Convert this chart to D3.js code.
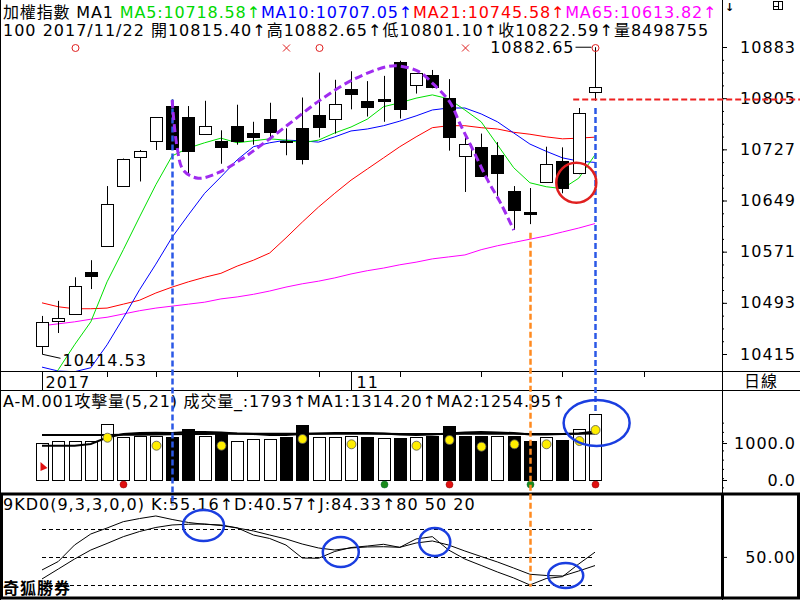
<!DOCTYPE html>
<html>
<head>
<meta charset="utf-8">
<script src="https://cdn.jsdelivr.net/npm/d3@7"></script>
<style>
body{margin:0;background:#fff}
text{font-family:"DejaVu Sans","Noto Sans CJK TC",sans-serif;font-size:16px;letter-spacing:1px;fill:#000}
</style>
</head>
<body>
<div id="chart"></div>
<script>
// K線 (加權指數, 日線)
const opens  = [10427,10465,10475,10540,10579,10672,10716,10740,10793,10776,10750,10740,10762,10752,10774,10740,10759,10780,10773,10819,10801,10804,10860,10825,10841,10805,10716,10730,10718,10663,10631,10677,10709,10691,10815.40]
const highs  = [10473,10496,10532,10558,10671,10713,10726,10776,10803,10793,10801,10756,10795,10769,10798,10759,10806,10844,10833,10846,10831,10839,10862,10843,10848,10834,10745,10751,10738,10671,10668,10731,10730,10790,10882.65]
const lows   = [10414.53,10447,10475,10514,10579,10672,10678,10726,10727,10687,10750,10705,10734,10734,10741,10718,10704,10745,10751,10788,10777,10769,10774,10812,10820,10725,10662,10686,10656,10604,10613,10677,10660,10689,10801.10]
const closes = [10464,10470,10518,10534,10643,10713,10725,10776,10727,10724,10762,10731,10739,10746,10754,10739,10712,10761,10796,10811,10792,10801,10789,10843,10822,10746,10735,10686,10690,10634,10628,10704,10668,10782,10822.59]

const ma5  = [10360,10391,10429,10464,10525,10574,10624,10673,10717,10729,10737,10744,10737,10740,10743,10741,10737,10741,10752,10761,10773,10792,10798,10805,10810,10804,10787,10769,10734,10699,10676,10670,10667,10683,10718.58]
const ma10 = [10395,10389,10388,10394,10429,10470,10513,10552,10593,10627,10660,10685,10711,10731,10737,10741,10740,10738,10746,10755,10758,10763,10770,10778,10787,10790,10790,10781,10769,10752,10735,10724,10714,10709,10707.05]
const ma21 = [10493,10487,10484,10484,10485,10491,10497,10508,10517,10525,10532,10538,10549,10558,10569,10592,10616,10639,10660,10680,10697,10714,10731,10746,10760,10763,10763,10760,10758,10753,10750,10746,10743,10744,10745.58]
const ma65 = [10458,10461,10464,10468,10471,10476,10481,10485,10488,10491,10494,10499,10502,10506,10511,10517,10522,10526,10531,10537,10542,10546,10551,10555,10560,10563,10566,10574,10580,10585,10590,10595,10601,10607,10613.82]

// 攻擊量
const volumes = [992,1062,1054,1062,1505,1171,1189,1189,1153,1378,1189,1261,1045,1099,1099,1171,1486,1171,1153,1189,1171,1126,1126,1171,1189,1459,1189,1189,1189,1189,1054,1171,1081,1369,1793]
const volMa1 = [927,927,927,973,1149,1243,1270,1278,1270,1297,1297,1284,1257,1243,1216,1216,1243,1257,1270,1270,1270,1257,1230,1216,1230,1257,1284,1297,1284,1270,1230,1230,1243,1257,1314.20]
const volMa2 = [1216,1216,1216,1216,1216,1220,1225,1230,1235,1240,1245,1248,1250,1252,1252,1250,1250,1250,1250,1250,1250,1248,1246,1245,1244,1245,1247,1248,1248,1248,1246,1245,1245,1248,1254.95]
const yellowIdx = [4,7,11,16,19,23,25,27,29,31,33,34]
const yellowVal = [1143,927,927,1108,965,927,1081,900,965,965,1054,1351]
const redDotIdx = [5,25,34]
const greenDotIdx = [21,30]

// KD
const kValues = [35.8,45.0,62.9,74.9,81.4,88.3,91.7,94.5,90.7,87.4,85.4,84.7,81.6,73.8,70.0,62.9,48.8,48.5,55.9,60.2,61.8,63.7,60.4,69.5,72.0,57.5,47.7,40.7,33.6,27.1,19.5,26.5,28.5,42.3,55.16]
const dValues = [26.0,36.8,47.7,57.5,64.6,72.0,77.6,82.0,84.7,85.5,85.8,84.1,81.4,78.2,73.8,69.5,64.0,59.7,57.5,59.7,60.8,61.1,60.4,65.1,67.3,62.9,56.4,50.4,44.5,37.9,31.1,29.8,29.2,34.7,40.57]
const kdLevels = [80,50,20]

// 軸
const priceTicks = [10883,10805,10727,10649,10571,10493,10415]
const volTicks = [1000,0]
const volTickLabels = ['1000.0','0.0']
const kdTicks = [50]
const kdTickLabels = ['50.00']
const dateTickIdx = [0,4,7,12,17,19,22,27,32,37]
const dateLabelIdx = [0,19]
const dateLabels = ['2017','11']

// 訊號標記
const markIdx = [2,15,17,26,34]
const markType = ['o','x','o','x','o']

// 手繪註記
const purpleIdx = [8.0,8.3,8.7,9.6,10.8,12.2,13.4,15.1,17.1,19.1,21.2,22.0,23.2,24.0,25.1,25.7,26.5,27.4,28.2,29.0]
const purplePrice = [10802,10731,10695,10683,10691,10711,10732,10764,10802,10833,10853,10854,10845,10828,10798,10766,10726,10680,10645,10604]
const kdCircleIdx = [9.93,18.37,24.15,32.2]
const kdCircleVal = [84.1,55.3,66.2,29.8]
const kdCircleRx = [20.5,18,15.5,17.5]
const kdCircleRy = [15.5,15,14,12.5]

const W = 800, H = 600
const axisX = 722

const svg = d3.select('#chart').append('svg')
    .attr('width', W)
    .attr('height', H)

const x = d3.scaleLinear().domain([0, 34]).range([42, 595])
const y = d3.scaleLinear().domain([10415, 10883]).range([354, 47])
const vy = d3.scaleLinear().domain([0, 1000]).range([480, 443])
const ky = d3.scaleLinear().domain([20, 80]).range([584.5, 529.3])
const px = i => Math.round(x(i)) + 0.5

svg.append('defs').append('clipPath').attr('id', 'clip-main')
    .append('rect').attr('x', 1).attr('y', 0).attr('width', axisX - 1).attr('height', 371)

// ---- 框線
const frame = svg.append('g').attr('stroke', '#000').attr('fill', 'none')
frame.append('line').attr('x1', 0.5).attr('x2', 0.5).attr('y1', 0).attr('y2', H)
frame.append('line').attr('x1', axisX + 0.5).attr('x2', axisX + 0.5).attr('y1', 0).attr('y2', H)
frame.append('line').attr('x1', 0).attr('x2', W).attr('y1', 371.5).attr('y2', 371.5)
frame.append('line').attr('x1', 0).attr('x2', W).attr('y1', 390.5).attr('y2', 390.5)
frame.append('rect').attr('x', 1.5).attr('y', 494).attr('width', W - 3).attr('height', 104)
    .attr('stroke-width', 3)
frame.append('line').attr('x1', axisX + 0.5).attr('x2', axisX + 0.5).attr('y1', 494).attr('y2', 598)
    .attr('stroke-width', 3)

// ---- 主圖
const main = svg.append('g').attr('clip-path', 'url(#clip-main)')

const maLines = [[ma65, '#ff00ff'], [ma21, '#ff0000'], [ma10, '#0000ff'], [ma5, '#00e000']]
maLines.forEach(([vals, color]) => {
    main.append('path')
        .datum(vals)
        .attr('fill', 'none')
        .attr('stroke', color)
        .attr('stroke-width', 1)
        .attr('d', d3.line().x((d, i) => x(i)).y(d => y(d)))
})

const candles = main.append('g').selectAll('g')
    .data(d3.range(opens.length))
    .enter().append('g')
candles.append('line')
    .attr('x1', i => px(i)).attr('x2', i => px(i))
    .attr('y1', i => y(highs[i])).attr('y2', i => y(lows[i]))
    .attr('stroke', '#000')
candles.append('rect')
    .attr('x', i => px(i) - 6)
    .attr('width', 12)
    .attr('y', i => Math.round(y(Math.max(opens[i], closes[i]))) + 0.5)
    .attr('height', i => Math.max(1, Math.round(Math.abs(y(opens[i]) - y(closes[i])))))
    .attr('fill', i => closes[i] >= opens[i] ? '#fff' : '#000')
    .attr('stroke', '#000')

// 最高 / 最低 標示
const lastI = opens.length - 1
const hiY = y(highs[lastI])
main.append('line')
    .attr('x1', px(lastI) - 20).attr('x2', px(lastI) - 4)
    .attr('y1', hiY).attr('y2', hiY)
    .attr('stroke', '#000')
main.append('text')
    .attr('x', px(lastI) - 21).attr('y', hiY + 6)
    .attr('text-anchor', 'end')
    .text(d3.format('.2f')(highs[lastI]))

const loI = d3.minIndex(lows)
const loY = y(lows[loI])
main.append('path')
    .attr('d', `M${px(loI)},${loY - 3}L${px(loI)},${loY}L${px(loI) + 18},${loY + 4}`)
    .attr('fill', 'none').attr('stroke', '#000')
main.append('text')
    .attr('x', px(loI) + 20).attr('y', loY + 12)
    .text(d3.format('.2f')(lows[loI]))

// 訊號 o / x
const marks = main.append('g').attr('stroke', '#e02020').attr('fill', 'none')
markIdx.forEach((idx, k) => {
    const cx = px(idx), cy = 48
    if (markType[k] === 'o') {
        marks.append('circle').attr('cx', cx).attr('cy', cy).attr('r', 3.5)
    } else {
        marks.append('path').attr('d', `M${cx - 3.5},${cy - 3.5}L${cx + 3.5},${cy + 3.5}M${cx + 3.5},${cy - 3.5}L${cx - 3.5},${cy + 3.5}`)
    }
})

// 標題
const head1 = main.append('text').attr('x', 3).attr('y', 17.5).style('letter-spacing', '0.85px')
head1.append('tspan').text('加權指數 MA1 ')
head1.append('tspan').style('fill', '#00d800').text(`MA5:${ma5[lastI].toFixed(2)}↑`)
head1.append('tspan').style('fill', '#0000ff').text(`MA10:${ma10[lastI].toFixed(2)}↑`)
head1.append('tspan').style('fill', '#ff0000').text(`MA21:${ma21[lastI].toFixed(2)}↑`)
head1.append('tspan').style('fill', '#ff00ff').text(`MA65:${ma65[lastI].toFixed(2)}↑`)
main.append('text').attr('x', 3).attr('y', 35.5)
    .text(`100 2017/11/22 開${opens[lastI].toFixed(2)}↑高${highs[lastI].toFixed(2)}↑低${lows[lastI].toFixed(2)}↑收${closes[lastI].toFixed(2)}↑量8498755`)

// 右側價格軸
const priceAxis = svg.append('g')
    .attr('transform', `translate(${axisX},0)`)
    .call(d3.axisRight(y).tickValues(priceTicks).tickSize(5).tickSizeOuter(0).tickFormat(d3.format('d')))
priceAxis.select('.domain').remove()
priceAxis.selectAll('text').attr('x', 74).attr('text-anchor', 'end')
    .style('font-size', '16px').style('font-family', '"DejaVu Sans"')
const minorP = svg.append('g')
    .attr('transform', `translate(${axisX},0)`)
    .call(d3.axisRight(y).tickValues(d3.range(10415, 10883, 19.5)).tickSize(2).tickFormat(''))
minorP.select('.domain').remove()

// 日期軸
const dateAxis = svg.append('g')
dateAxis.selectAll('line')
    .data(dateTickIdx)
    .enter().append('line')
    .attr('x1', i => px(i)).attr('x2', i => px(i))
    .attr('y1', 371)
    .attr('y2', i => dateLabelIdx.includes(i) ? 390 : 377)
    .attr('stroke', '#000')
dateAxis.selectAll('text')
    .data(dateLabelIdx)
    .enter().append('text')
    .attr('x', i => px(i) + (i === 0 ? 3 : 5))
    .attr('y', 388)
    .text((d, k) => dateLabels[k])
svg.append('text').attr('x', 761).attr('y', 387).attr('text-anchor', 'middle').text('日線')

// ---- 攻擊量
const vol = svg.append('g')
vol.selectAll('rect')
    .data(volumes)
    .enter().append('rect')
    .attr('x', (d, i) => px(i) - 6)
    .attr('width', 12)
    .attr('y', d => Math.round(vy(d)) + 0.5)
    .attr('height', d => Math.round(vy(0) - vy(d)))
    .attr('fill', (d, i) => i === 0 || closes[i] >= closes[i - 1] ? '#fff' : '#000')
    .attr('stroke', '#000')
;[volMa2, volMa1].forEach(vals => {
    vol.append('path').datum(vals)
        .attr('fill', 'none').attr('stroke', '#000').attr('stroke-width', 2)
        .attr('d', d3.line().x((d, i) => x(i)).y(d => vy(d)))
})
vol.selectAll('.yellow')
    .data(yellowIdx)
    .enter().append('circle')
    .attr('class', 'yellow')
    .attr('cx', i => px(i)).attr('cy', (d, k) => vy(yellowVal[k]))
    .attr('r', 4.5)
    .attr('fill', '#ffee00').attr('stroke', '#555').attr('stroke-width', 0.8)
vol.selectAll('.red-dot')
    .data(redDotIdx)
    .enter().append('circle')
    .attr('class', 'red-dot')
    .attr('cx', i => px(i)).attr('cy', vy(0) + 4.5).attr('r', 3.5)
    .attr('fill', '#e01010').attr('stroke', '#800').attr('stroke-width', 0.5)
vol.selectAll('.green-dot')
    .data(greenDotIdx)
    .enter().append('circle')
    .attr('class', 'green-dot')
    .attr('cx', i => px(i)).attr('cy', vy(0) + 4.5).attr('r', 3.5)
    .attr('fill', '#1a8a1a').attr('stroke', '#063').attr('stroke-width', 0.5)
vol.append('path')
    .attr('d', `M${px(0) - 2},${vy(0) - 18}L${px(0) + 5},${vy(0) - 12}L${px(0) - 2},${vy(0) - 9}Z`)
    .attr('fill', '#e01010')
vol.append('text').attr('x', 3).attr('y', 407).style('letter-spacing', '0.8px')
    .text(`A-M.001攻擊量(5,21) 成交量_:${volumes[lastI]}↑MA1:${volMa1[lastI].toFixed(2)}↑MA2:${volMa2[lastI].toFixed(2)}↑`)

const volAxis = svg.append('g')
    .attr('transform', `translate(${axisX},0)`)
    .call(d3.axisRight(vy).tickValues(volTicks).tickSize(5).tickFormat((d, k) => volTickLabels[k]))
volAxis.select('.domain').remove()
volAxis.selectAll('text').attr('x', 74).attr('text-anchor', 'end')
    .style('font-size', '16px').style('font-family', '"DejaVu Sans"')
const minorV = svg.append('g')
    .attr('transform', `translate(${axisX},0)`)
    .call(d3.axisRight(vy).tickValues(d3.range(-200, 1600, 250)).tickSize(2).tickFormat(''))
minorV.select('.domain').remove()

// ---- KD
const kd = svg.append('g')
kd.selectAll('.level')
    .data(kdLevels)
    .enter().append('line')
    .attr('class', 'level')
    .attr('x1', x(0)).attr('x2', x(34))
    .attr('y1', d => Math.round(ky(d)) + 0.5).attr('y2', d => Math.round(ky(d)) + 0.5)
    .attr('stroke', '#000').attr('stroke-dasharray', '4,3')
;[kValues, dValues].forEach(vals => {
    kd.append('path').datum(vals)
        .attr('fill', 'none').attr('stroke', '#000').attr('stroke-width', 1)
        .attr('d', d3.line().x((d, i) => x(i)).y(d => ky(d)))
})
kd.append('text').attr('x', 3).attr('y', 510)
    .text(`9KD0(9,3,3,0,0) K:${kValues[lastI].toFixed(2)}↑D:${dValues[lastI].toFixed(2)}↑J:84.33↑${kdLevels.join(' ')}`)
kd.append('text').attr('x', 3).attr('y', 594).style('font-weight', 'bold').text('奇狐勝券')

const kdAxis = svg.append('g')
    .attr('transform', `translate(${axisX},0)`)
    .call(d3.axisRight(ky).tickValues(kdTicks).tickSize(5).tickFormat((d, k) => kdTickLabels[k]))
kdAxis.select('.domain').remove()
kdAxis.selectAll('text').attr('x', 74).attr('text-anchor', 'end')
    .style('font-size', '16px').style('font-family', '"DejaVu Sans"')

// 右上小圖示
svg.append('text').attr('x', 725).attr('y', 11).style('font-size', '11px').style('font-weight', 'bold').style('letter-spacing', '0px').text('↓')
svg.append('rect').attr('x', 773.5).attr('y', 1.5).attr('width', 9).attr('height', 8).attr('fill', 'none').attr('stroke', '#000')
svg.append('line').attr('x1', 773).attr('x2', 778).attr('y1', 6.5).attr('y2', 6.5).attr('stroke', '#000')
svg.append('line').attr('x1', 778.5).attr('x2', 778.5).attr('y1', 2).attr('y2', 10).attr('stroke', '#000')

// ---- 手繪註記
const notes = svg.append('g').attr('fill', 'none')
notes.append('line')
    .attr('x1', px(8)).attr('x2', px(8))
    .attr('y1', y(10803)).attr('y2', ky(106))
    .attr('stroke', '#2b58e6').attr('stroke-width', 2.5).attr('stroke-dasharray', '6,3')
notes.append('line')
    .attr('x1', px(34)).attr('x2', px(34))
    .attr('y1', y(10790)).attr('y2', vy(1793))
    .attr('stroke', '#2b58e6').attr('stroke-width', 2.5).attr('stroke-dasharray', '6,3')
notes.append('line')
    .attr('x1', px(30)).attr('x2', px(30))
    .attr('y1', y(10600)).attr('y2', ky(17.6))
    .attr('stroke', '#ff8a20').attr('stroke-width', 2.5).attr('stroke-dasharray', '6,3')
notes.append('line')
    .attr('x1', x(32.66)).attr('x2', W)
    .attr('y1', y(10803)).attr('y2', y(10803))
    .attr('stroke', '#ee2020').attr('stroke-width', 2).attr('stroke-dasharray', '6,3')
notes.append('path')
    .datum(purpleIdx)
    .attr('stroke', '#a02cf0').attr('stroke-width', 3).attr('stroke-dasharray', '8,4')
    .attr('d', d3.line().curve(d3.curveCatmullRom).x(d => x(d)).y((d, k) => y(purplePrice[k])))
notes.append('circle')
    .attr('cx', x(32.85)).attr('cy', y(10676)).attr('r', 20)
    .attr('stroke', '#e02020').attr('stroke-width', 2.5)
notes.append('ellipse')
    .attr('cx', x(34.1)).attr('cy', vy(1540)).attr('rx', 33).attr('ry', 23)
    .attr('stroke', '#1a3ee0').attr('stroke-width', 2.5)
notes.selectAll('.kd-ring')
    .data(kdCircleIdx)
    .enter().append('ellipse')
    .attr('class', 'kd-ring')
    .attr('cx', d => x(d)).attr('cy', (d, k) => ky(kdCircleVal[k]))
    .attr('rx', (d, k) => kdCircleRx[k]).attr('ry', (d, k) => kdCircleRy[k])
    .attr('stroke', '#1a3ee0').attr('stroke-width', 2.5)
</script>
</body>
</html>
